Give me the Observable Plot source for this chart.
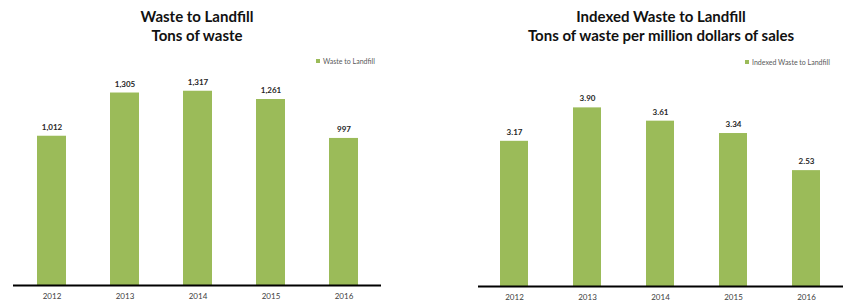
<!DOCTYPE html>
<html>
<head>
<meta charset="utf-8">
<script src="https://cdn.jsdelivr.net/npm/d3@7"></script>
<script src="https://cdn.jsdelivr.net/npm/@observablehq/plot@0.6"></script>
<style>
  html, body { margin: 0; padding: 0; background: #fff; }
  #root { position: relative; width: 847px; height: 301px; overflow: hidden; font-family: Lato, "Open Sans", sans-serif; }
  .panel { position: absolute; top: 0; height: 301px; }
  .panel svg { position: absolute; left: 0; top: 0; overflow: visible; }
  .title { position: absolute; left: 0; right: 0; text-align: center; font-weight: bold; font-size: 15px; color: #111; line-height: 19px; white-space: nowrap; }
  .legend { position: absolute; font-size: 7px; color: #595959; white-space: nowrap; line-height: 8px; }
  .legend .sw { display: inline-block; width: 4px; height: 4px; background: #9BBB59; margin-right: 3px; vertical-align: 1px; }
</style>
</head>
<body>
<div id="root"></div>
<script>
const years = ["2012", "2013", "2014", "2015", "2016"];
const wasteToLandfill = [1012, 1305, 1317, 1261, 997];
const indexedWaste = [3.17, 3.90, 3.61, 3.34, 2.53];

const titles1 = ["Waste to Landfill", "Tons of waste"];
const titles2 = ["Indexed Waste to Landfill", "Tons of waste per million dollars of sales"];
const legend1 = "Waste to Landfill";
const legend2 = "Indexed Waste to Landfill";

const green = "#9BBB59";
const root = document.getElementById("root");

function panel({left, width, values, fmt, yMax, margins, padInner, padOuter, titles, legend, legendPos, titleCenter}) {
  const div = document.createElement("div");
  div.className = "panel";
  div.style.left = left + "px";
  div.style.width = width + "px";
  root.appendChild(div);

  const data = years.map((y, i) => ({year: y, value: values[i]}));
  const chart = Plot.plot({
    width, height: 301,
    marginLeft: margins[0], marginRight: margins[1], marginTop: margins[2], marginBottom: margins[3],
    style: {fontFamily: "Lato, 'Open Sans', sans-serif", background: "transparent", overflow: "visible"},
    x: {domain: years, paddingInner: padInner, paddingOuter: padOuter, label: null},
    y: {domain: [0, yMax], axis: null},
    marks: [
      Plot.barY(data, {x: "year", y: "value", fill: green}),
      Plot.text(data, {x: "year", y: "value", text: d => fmt(d.value), dy: -9, fontWeight: "bold", fontSize: 8, fill: "#262626"}),
      Plot.ruleY([0], {stroke: "#000", strokeWidth: 2}),
      Plot.axisX({tickSize: 0, tickPadding: 7.5, fontSize: 8, color: "#404040", label: null})
    ]
  });
  div.appendChild(chart);

  titles.forEach((t, i) => {
    const el = document.createElement("div");
    el.className = "title";
    el.style.top = (7 + i * 19) + "px";
    if (titleCenter != null) { el.style.left = (titleCenter - 200) + "px"; el.style.right = "auto"; el.style.width = "400px"; }
    el.textContent = t;
    div.appendChild(el);
  });

  const lg = document.createElement("div");
  lg.className = "legend";
  lg.style.left = legendPos[0] + "px";
  lg.style.top = legendPos[1] + "px";
  const sw = document.createElement("span");
  sw.className = "sw";
  lg.appendChild(sw);
  lg.appendChild(document.createTextNode(legend));
  div.appendChild(lg);
}

panel({
  left: 0, width: 424, values: wasteToLandfill, fmt: d3.format(","), yMax: 1600,
  margins: [13, 43, 49, 16], padInner: 0.606, padOuter: 0.303,
  titles: titles1, legend: legend1, legendPos: [316, 57], titleCenter: 197
});
panel({
  left: 424, width: 423, values: indexedWaste, fmt: d3.format(".2f"), yMax: 5,
  margins: [54, 4, 57, 15], padInner: 0.61, padOuter: 0.305,
  titles: titles2, legend: legend2, legendPos: [321, 58], titleCenter: 237
});
</script>
</body>
</html>
